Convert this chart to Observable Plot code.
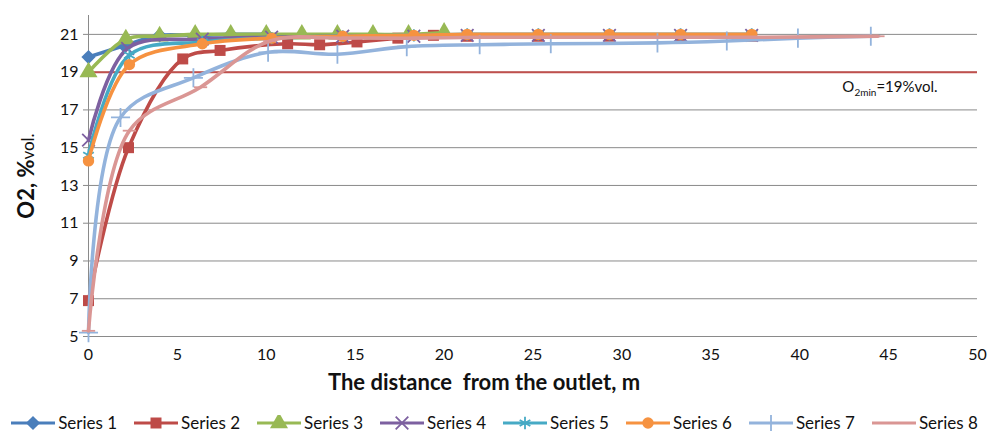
<!DOCTYPE html>
<html>
<head>
<meta charset="utf-8">
<script src="https://cdn.jsdelivr.net/npm/d3@7"></script>
<script src="https://cdn.jsdelivr.net/npm/@observablehq/plot@0.6"></script>
<style>
  body { margin: 0; background: #fff; font-family: Lato, "Open Sans", sans-serif; }
  #chart { width: 988px; height: 432px; position: relative; }
  #legend { display: flex; justify-content: center; align-items: center; height: 27px; padding-top: 4px; gap: 16px; font-size: 17px; color: #111; }
  .item { display: flex; align-items: center; gap: 2px; white-space: nowrap; }
</style>
</head>
<body>
<div id="chart"></div>
<script>
// Oxygen concentration vs. distance from the outlet, eight measurement series
const seriesNames = ["Series 1", "Series 2", "Series 3", "Series 4", "Series 5", "Series 6", "Series 7", "Series 8"];

const s1Dist = [0, 2, 4, 6, 8, 10];
const s1O2   = [19.8, 20.4, 20.95, 20.95, 21, 21];

const s2Dist = [0, 2.25, 5.3, 7.4, 11.2, 13, 15.1, 17.4, 19.4, 21.3, 25.3, 29.3, 33.3, 37.3];
const s2O2   = [6.9, 15, 19.7, 20.15, 20.5, 20.45, 20.6, 20.8, 20.95, 20.9, 20.9, 20.9, 20.9, 20.9];

const s3Dist = [0, 2.1, 4, 6, 8, 10, 12, 14, 16, 18, 20];
const s3O2   = [19, 20.75, 20.9, 21, 21, 21, 21, 21, 21, 21, 21.1];

const s4Dist = [0, 2.2, 6.4, 10.3, 14.3, 18.3, 21.3, 25.3, 29.3, 33.3, 37.3];
const s4O2   = [15.4, 20.25, 20.75, 20.85, 20.9, 20.9, 20.95, 20.95, 20.95, 20.95, 20.95];

const s5Dist = [0, 2.3, 6.4, 10.3, 14.3, 18.3, 21.3, 25.3, 29.3, 33.3, 37.3];
const s5O2   = [14.6, 19.9, 20.6, 20.8, 20.9, 20.95, 21, 21, 21, 21, 21];

const s6Dist = [0, 2.3, 6.4, 10.3, 14.3, 18.3, 21.3, 25.3, 29.3, 33.3, 37.3];
const s6O2   = [14.3, 19.4, 20.5, 20.8, 20.9, 20.95, 21, 21, 21, 21, 21];

const s7Dist = [0, 1.8, 5.9, 10.1, 14, 17.9, 22, 26, 32, 35.9, 39.9, 44];
const s7O2   = [5.2, 16.6, 18.7, 20.05, 19.95, 20.35, 20.45, 20.5, 20.55, 20.65, 20.8, 20.9];

const s8Dist = [0, 2.3, 6.3, 10.2, 14.3, 18.3, 22, 26, 30, 34, 38, 44.4];
const s8O2   = [5.3, 15.9, 18.2, 20.65, 20.8, 20.8, 20.85, 20.85, 20.85, 20.85, 20.85, 20.9];

const o2Min = 19;
const xTicks = [0, 5, 10, 15, 20, 25, 30, 35, 40, 45, 50];
const yTicks = [5, 7, 9, 11, 13, 15, 17, 19, 21];

// short horizontal dash used as the marker of the last series
const dash = {
  draw(context, size) {
    const r = Math.sqrt(size) * 0.75;
    context.moveTo(-r, 0);
    context.lineTo(r, 0);
  }
};

const style = [
  { color: "#4a7ebb", symbol: "diamond2", r: 6.4, filled: true },
  { color: "#be4b48", symbol: "square",   r: 6.2, filled: true },
  { color: "#98b954", symbol: "triangle", r: 6.7, filled: true },
  { color: "#7d60a0", symbol: "times",    r: 5.8, filled: false },
  { color: "#46aac5", symbol: "asterisk", r: 5.8, filled: false },
  { color: "#f69240", symbol: "circle",   r: 5.7, filled: true },
  { color: "#93b3dc", symbol: "plus",     r: 6.2, filled: false },
  { color: "#da9694", symbol: dash,       r: 5,   filled: false }
];

const dists = [s1Dist, s2Dist, s3Dist, s4Dist, s5Dist, s6Dist, s7Dist, s8Dist];
const levels = [s1O2, s2O2, s3O2, s4O2, s5O2, s6O2, s7O2, s8O2];

const series = seriesNames.map((name, i) => ({
  name,
  rows: dists[i].map((d, j) => ({ dist: d, o2: levels[i][j] })),
  ...style[i]
}));

const seriesMarks = series.flatMap(s => [
  Plot.line(s.rows, { x: "dist", y: "o2", stroke: s.color, strokeWidth: 3.6, curve: "catmull-rom" }),
  Plot.dot(s.rows, s.filled
    ? { x: "dist", y: "o2", symbol: () => s.symbol, r: s.r, fill: s.color, stroke: "none" }
    : { x: "dist", y: "o2", symbol: () => s.symbol, r: s.r, fill: "none", stroke: s.color, strokeWidth: 1.8 })
]);

const chart = Plot.plot({
  width: 988,
  height: 405,
  marginLeft: 88,
  marginRight: 11,
  marginTop: 15,
  marginBottom: 69,
  style: { fontFamily: "Lato, 'Open Sans', sans-serif", fontSize: "16px", color: "#111", background: "#fff", overflow: "visible" },
  x: { domain: [0, 50] },
  y: { domain: [5, 22] },
  symbol: { type: "identity" },
  marks: [
    Plot.gridY(yTicks, { stroke: "#8a8a8a", strokeOpacity: 1, strokeWidth: 1 }),
    Plot.ruleX([0], { stroke: "#8a8a8a", strokeWidth: 1 }),
    Plot.axisY({ ticks: yTicks, tickSize: 5, tickPadding: 5, stroke: "#8a8a8a", label: null }),
    Plot.axisX({ ticks: xTicks, tickSize: 0, tickPadding: 12, label: null }),
    Plot.ruleY([o2Min], { stroke: "#c0504d", strokeWidth: 2 }),
    Plot.text([o2Min], {
      x: () => 42.4, y: d => d, dy: 15, textAnchor: "start",
      text: d => `O2min=${d}%vol.`, fontSize: 15, fill: "#111"
    }),
    ...seriesMarks
  ]
});

const svg = d3.select(chart);

// subscript "2 min" in the limit annotation
svg.selectAll("text").filter(function () { return this.textContent.startsWith("O2min="); })
  .each(function () {
    const t = d3.select(this);
    const rest = this.textContent.slice("O2min".length);
    t.text(null);
    t.append("tspan").text("O");
    t.append("tspan").attr("font-size", 10).attr("dy", 4).text("2min");
    t.append("tspan").attr("dy", -4).text(rest);
  });

// axis titles
svg.append("text")
  .attr("x", 484).attr("y", 390)
  .attr("text-anchor", "middle")
  .attr("font-size", 22).attr("font-weight", "bold")
  .attr("fill", "#111")
  .style("white-space", "pre")
  .text("The distance  from the outlet, m");

const yTitle = svg.append("text")
  .attr("transform", "translate(34,176) rotate(-90)")
  .attr("text-anchor", "middle")
  .attr("fill", "#111");
yTitle.append("tspan").attr("font-size", 22).attr("font-weight", "bold").text("O2, %");
yTitle.append("tspan").attr("font-size", 17).text("vol.");

document.getElementById("chart").appendChild(chart);

// legend: line sample with marker, then the series name
const legend = d3.select("#chart").append("div").attr("id", "legend");
series.forEach(s => {
  const item = legend.append("div").attr("class", "item");
  const sw = item.append("svg").attr("width", 46).attr("height", 16);
  sw.append("line").attr("x1", 1).attr("x2", 45).attr("y1", 8).attr("y2", 8)
    .attr("stroke", s.color).attr("stroke-width", 3);
  const symType = typeof s.symbol === "string"
    ? ({ diamond2: d3.symbolDiamond2, square: d3.symbolSquare, triangle: d3.symbolTriangle, times: d3.symbolTimes,
         asterisk: d3.symbolAsterisk, circle: d3.symbolCircle, plus: d3.symbolPlus })[s.symbol]
    : s.symbol;
  const path = d3.symbol(symType, Math.PI * s.r * s.r)();
  const p = sw.append("path").attr("d", path).attr("transform", "translate(23,8)");
  if (s.filled) p.attr("fill", s.color);
  else p.attr("fill", "none").attr("stroke", s.color).attr("stroke-width", 1.8);
  item.append("span").text(s.name);
});
</script>
</body>
</html>
